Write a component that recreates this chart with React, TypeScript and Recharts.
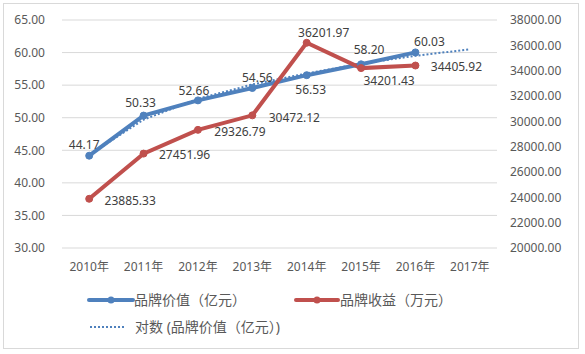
import React from "react";
import {
  ComposedChart,
  Line,
  XAxis,
  YAxis,
  CartesianGrid,
  Legend,
} from "recharts";

const years = ["2010年", "2011年", "2012年", "2013年", "2014年", "2015年", "2016年", "2017年"];
const brandValue = [44.17, 50.33, 52.66, 54.56, 56.53, 58.2, 60.03];
const brandIncome = [23885.33, 27451.96, 29326.79, 30472.12, 36201.97, 34201.43, 34405.92];
// logarithmic trend of brand value
const valueTrend = [44.3, 49.7, 52.9, 55.1, 56.8, 58.3, 59.5, 60.5];
const leftTicks = [30, 35, 40, 45, 50, 55, 60, 65];
const rightTicks = [20000, 22000, 24000, 26000, 28000, 30000, 32000, 34000, 36000, 38000];

const data = years.map((year, i) => ({
  year,
  value: brandValue[i],
  income: brandIncome[i],
  trend: valueTrend[i],
}));

const BLUE = "#4F81BD";
const RED = "#C0504D";
const TEXT = "#595959";
const FONT = "'Noto Sans', 'Noto Sans CJK SC', sans-serif";

// label centre offsets from each point, as Excel placed them
const blueOffsets = [[-5, -11], [-3, -13], [-4, -10], [5, -11], [4, 14], [8, -15], [14, -11]];
const redOffsets = [[41, 2], [41, 1], [42, 2], [42, 2], [17, -10], [28, 12], [41, 1]];

function makeLabel(offsets: number[][], digits: number) {
  return (props: any) => {
    const { x, y, value, index } = props;
    if (value == null || x == null) return null;
    const [dx, dy] = offsets[index] || [0, 0];
    return (
      <text
        x={x + dx}
        y={y + dy}
        textAnchor="middle"
        dominantBaseline="central"
        fontSize={12}
        fontFamily={FONT}
        fill="#404040"
      >
        {Number(value).toFixed(digits)}
      </text>
    );
  };
}

function ChartLegend() {
  const item: React.CSSProperties = {
    position: "absolute",
    fontSize: 14,
    fontFamily: FONT,
    color: TEXT,
    lineHeight: "16px",
    whiteSpace: "nowrap",
  };
  return (
    <div style={{ position: "relative", width: 585, height: 60 }}>
      <svg width={585} height={60} style={{ position: "absolute", left: 0, top: 0 }}>
        <line x1={89} x2={133} y1={15} y2={15} stroke={BLUE} strokeWidth={4} strokeLinecap="round" />
        <circle cx={111} cy={15} r={3.5} fill={BLUE} />
        <line x1={296} x2={338} y1={15} y2={15} stroke={RED} strokeWidth={4} strokeLinecap="round" />
        <circle cx={317} cy={15} r={3.5} fill={RED} />
        <line x1={90} x2={124} y1={42} y2={42} stroke={BLUE} strokeWidth={2} strokeDasharray="2 2" />
      </svg>
      <span style={{ ...item, left: 134, top: 7 }}>品牌价值（亿元）</span>
      <span style={{ ...item, left: 340, top: 7 }}>品牌收益（万元）</span>
      <span style={{ ...item, left: 135, top: 34 }}>对数 (品牌价值（亿元）)</span>
    </div>
  );
}

export default function App() {
  return (
    <div style={{ position: "absolute", left: 0, top: 0, width: 585, height: 354, background: "#fff" }}>
      <div
        style={{
          position: "absolute",
          left: 3,
          top: 3,
          width: 574,
          height: 344,
          border: "1px solid #d9d9d9",
        }}
      />
      <ComposedChart
        width={585}
        height={354}
        data={data}
        margin={{ top: 20, right: 0, left: 0, bottom: 76 }}
        style={{ position: "absolute", left: 0, top: 0 }}
      >
        <CartesianGrid yAxisId="left" vertical={false} stroke="#d9d9d9" />
        <XAxis
          dataKey="year"
          scale="band"
          axisLine={false}
          tickLine={false}
          tickSize={0}
          tickMargin={14}
          height={30}
          interval={0}
          tick={{ fill: TEXT, fontSize: 12, fontFamily: FONT }}
        />
        <YAxis
          yAxisId="left"
          orientation="left"
          domain={[30, 65]}
          ticks={leftTicks}
          width={62}
          axisLine={false}
          tickLine={false}
          tickSize={0}
          tickMargin={17}
          tickFormatter={(v: number) => v.toFixed(2)}
          tick={{ fill: TEXT, fontSize: 12, fontFamily: FONT }}
        />
        <YAxis
          yAxisId="right"
          orientation="right"
          domain={[20000, 38000]}
          ticks={rightTicks}
          width={88}
          axisLine={false}
          tickLine={false}
          tickSize={0}
          tickMargin={13}
          tickFormatter={(v: number) => v.toFixed(2)}
          tick={{ fill: TEXT, fontSize: 12, fontFamily: FONT }}
        />
        <Legend
          layout="horizontal"
          verticalAlign="middle"
          align="center"
          wrapperStyle={{ left: 0, top: 285, width: 585 }}
          content={() => <ChartLegend />}
        />
        <Line
          yAxisId="left"
          dataKey="value"
          stroke={BLUE}
          strokeWidth={4}
          dot={{ r: 3.5, fill: BLUE, stroke: BLUE, strokeWidth: 1 }}
          label={makeLabel(blueOffsets, 2)}
          isAnimationActive={false}
        />
        <Line
          yAxisId="left"
          dataKey="trend"
          stroke={BLUE}
          strokeWidth={2}
          strokeDasharray="2 2"
          dot={false}
          isAnimationActive={false}
        />
        <Line
          yAxisId="right"
          dataKey="income"
          stroke={RED}
          strokeWidth={4}
          dot={{ r: 3.5, fill: RED, stroke: RED, strokeWidth: 1 }}
          label={makeLabel(redOffsets, 2)}
          isAnimationActive={false}
        />
      </ComposedChart>
    </div>
  );
}
